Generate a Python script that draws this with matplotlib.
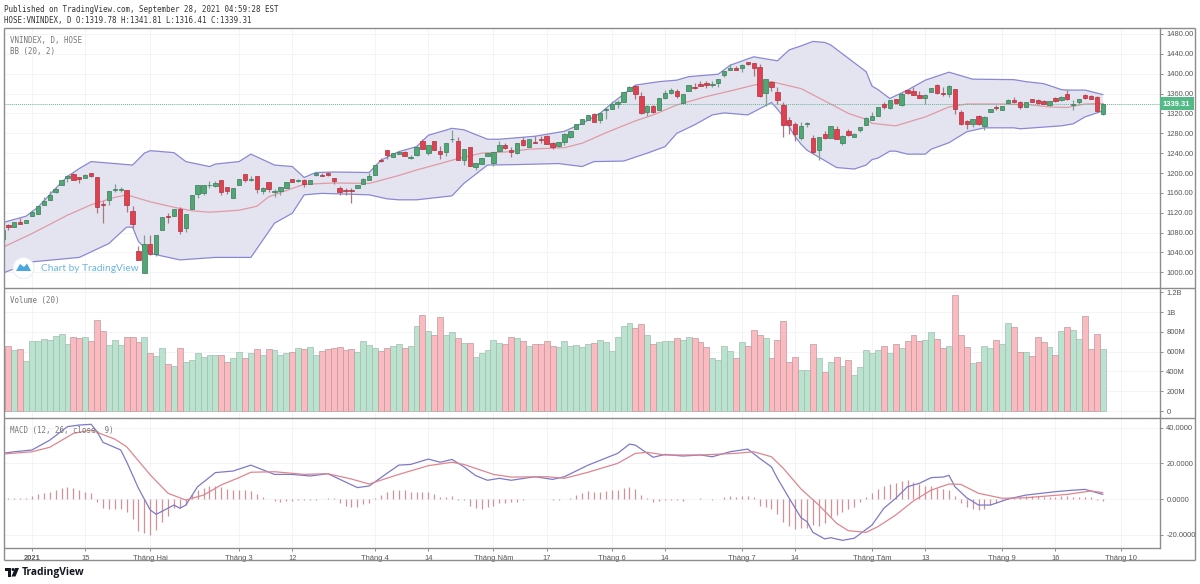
import numpy as np
import matplotlib
matplotlib.use("Agg")
import matplotlib.pyplot as plt
from matplotlib.lines import Line2D
from matplotlib.patches import Rectangle, Ellipse, Polygon

# ******************** data ********************
opens = [1068,1095,1091,1101,1099,1113,1117,1136,1146,1162,1176,1189,1198,1191,1189,1199,1191,1138,1146,1166,
         1165,1166,1123,1042,999,1058,1037,1085,1113,1113,1127,1090,1128,1157,1160,1175,1174,1186,1171,1149,
         1176,1197,1185,1194,1164,1181,1162,1163,1170,1187,1183,1185,1178,1195,1196,1201,1190,1169,1166,1165,
         1170,1177,1185,1195,1227,1246,1233,1238,1242,1231,1236,1264,1240,1264,1245,1242,1268,1265,1227,1252,
         1213,1219,1235,1221,1244,1256,1246,1240,1266,1252,1263,1268,1274,1260,1254,1263,1272,1288,1299,1307,
         1319,1307,1327,1329,1339,1344,1366,1375,1356,1323,1334,1326,1352,1361,1365,1340,1366,1374,1379,1382,
         1377,1382,1397,1408,1411,1411,1423,1421,1414,1362,1384,1364,1337,1306,1298,1270,1299,1270,1246,1279,
         1270,1288,1260,1284,1273,1286,1297,1307,1315,1339,1331,1349,1337,1368,1366,1357,1351,1364,1378,1362,
         1360,1369,1323,1304,1299,1315,1295,1323,1333,1327,1340,1348,1344,1333,1349,1348,1346,1337,1352,1347,
         1360,1336,1342,1358,1356,1354,1319.78]
closes = [1085,1091,1101,1097,1105,1121,1134,1143,1156,1168,1185,1193,1185,1188,1195,1193,1131,1136,1164,1167,
          1168,1136,1097,1025,1058,1036,1076,1112,1112,1127,1083,1117,1156,1175,1175,1176,1179,1162,1164,1169,
          1187,1186,1188,1168,1170,1168,1164,1171,1182,1182,1185,1178,1186,1201,1194,1195,1183,1162,1164,1164,
          1176,1187,1193,1217,1224,1237,1241,1243,1235,1233,1253,1248,1256,1247,1238,1260,1269,1227,1249,1215,
          1220,1231,1240,1242,1256,1250,1242,1260,1256,1269,1261,1267,1259,1252,1263,1278,1284,1298,1309,1316,
          1303,1320,1329,1339,1342,1364,1374,1359,1320,1334,1323,1352,1362,1368,1356,1360,1378,1371,1376,1377,
          1380,1390,1406,1411,1408,1417,1419,1411,1355,1389,1374,1347,1296,1297,1278,1295,1301,1242,1273,1270,
          1294,1269,1274,1276,1278,1293,1310,1314,1332,1333,1347,1340,1360,1361,1358,1352,1357,1371,1362,1360,
          1375,1328,1299,1298,1309,1299,1313,1328,1331,1335,1347,1342,1333,1344,1344,1340,1339,1346,1345,1353,
          1349,1339,1350,1352,1350,1325,1339.31]
highs = [1085,1097,1101,1109,1105,1125,1134,1152,1164,1172,1186,1196,1201,1191,1198,1201,1191,1144,1164,1177,
         1172,1166,1134,1053,1076,1076,1076,1112,1119,1127,1131,1117,1156,1175,1175,1183,1183,1186,1171,1169,
         1187,1197,1193,1194,1171,1181,1168,1172,1182,1188,1187,1187,1186,1203,1201,1202,1190,1174,1170,1169,
         1176,1189,1199,1217,1230,1247,1241,1245,1244,1236,1254,1268,1256,1265,1255,1260,1287,1272,1249,1252,
         1220,1231,1240,1242,1264,1261,1252,1260,1272,1269,1274,1274,1276,1262,1263,1280,1284,1298,1309,1316,
         1320,1323,1332,1346,1348,1364,1376,1377,1364,1336,1337,1352,1368,1372,1370,1360,1378,1382,1386,1386,
         1386,1390,1406,1419,1416,1420,1424,1422,1419,1389,1386,1374,1342,1312,1303,1303,1303,1276,1273,1285,
         1294,1295,1276,1289,1280,1293,1312,1323,1332,1342,1347,1350,1364,1370,1374,1365,1360,1371,1380,1374,
         1377,1370,1327,1307,1309,1317,1315,1328,1336,1335,1349,1354,1346,1344,1350,1350,1348,1346,1354,1356,
         1367,1347,1350,1360,1357,1356,1341.81]
lows = [1068,1085,1091,1097,1099,1113,1117,1136,1146,1159,1175,1181,1185,1180,1189,1192,1119,1100,1136,1162,
        1162,1122,1090,1024,998,1035,1033,1085,1100,1113,1077,1082,1128,1149,1156,1169,1171,1156,1157,1149,
        1176,1182,1183,1160,1157,1162,1152,1156,1169,1181,1182,1172,1178,1194,1193,1194,1178,1156,1156,1139,
        1169,1177,1185,1195,1223,1229,1233,1238,1234,1229,1235,1248,1236,1246,1229,1235,1263,1226,1217,1214,
        1206,1219,1234,1214,1242,1248,1233,1238,1254,1252,1260,1260,1258,1249,1253,1256,1270,1288,1299,1307,
        1302,1301,1308,1329,1331,1344,1365,1349,1319,1315,1321,1326,1350,1360,1352,1339,1365,1370,1376,1372,
        1374,1374,1393,1407,1407,1404,1418,1395,1354,1335,1366,1339,1272,1278,1265,1266,1293,1238,1226,1268,
        1270,1268,1256,1275,1272,1283,1297,1307,1315,1329,1328,1339,1335,1359,1357,1351,1339,1363,1360,1356,
        1354,1319,1297,1289,1293,1297,1287,1322,1327,1327,1339,1340,1329,1333,1344,1339,1339,1335,1342,1345,
        1348,1327,1339,1350,1349,1323,1316.41]
volumes = [583,657,617,624,502,705,711,725,718,762,775,678,745,735,745,711,920,806,664,715,
           664,745,745,698,745,587,553,634,472,458,634,492,512,583,546,566,570,570,492,533,
           593,533,583,627,570,627,614,570,587,593,634,627,647,570,607,627,640,647,617,627,
           593,705,664,634,607,634,657,674,634,654,856,974,809,769,947,769,796,735,684,684,
           546,583,617,715,684,674,745,735,708,661,678,678,705,661,647,705,661,667,647,674,
           684,718,701,607,752,856,890,839,876,769,674,701,711,708,738,718,752,735,698,647,
           536,516,654,610,533,701,654,816,772,735,533,715,910,492,549,418,411,674,536,391,
           492,549,455,516,364,442,620,583,614,661,583,678,634,711,772,711,718,799,732,640,
           657,1173,765,647,482,496,661,640,715,678,887,850,593,593,553,745,694,647,570,809,
           850,819,725,961,624,775,624]
hist = [0.3,0.7,0.7,0.7,0.7,1.7,2.6,3.5,4.1,5.2,6.2,6.7,6,4.9,4.1,3.2,-1.9,-5.2,-5.6,-5.6,
        -5.6,-7.5,-11.2,-17.8,-19.3,-20.4,-17.6,-13,-9.3,-5.2,-4.9,-3.4,2,5,6.4,7.3,7.5,6.9,5.6,5.2,
        5.2,5,4.7,2.6,1.3,0.1,-0.9,-1.5,-1.1,-0.9,-0.6,-0.6,-0.4,-0.4,0.2,0.4,0.3,-2.4,-3.7,-4.3,
        -4.3,-3,-2.4,0.4,2.2,3.9,5,5.2,4.9,4.1,4.1,3.7,3.9,2.6,1.3,1.1,1.5,-0.4,-0.7,-3.7,
        -5,-5.4,-4.5,-3.7,-2.4,-2,-1.9,-1.5,-0.7,-0.2,0.1,0.1,0.2,-0.7,-0.7,-0.2,0.7,2,3.4,4.5,
        3.7,4.1,4.5,4.9,5,6.2,6.7,5.4,2,0.4,-1.5,-1.1,-0.6,-0.4,-0.4,-0.9,0.1,0.1,0.4,0.1,
        -0.4,0.1,0.9,1.7,1.3,1.5,1.7,0.9,-3.9,-4.3,-5.6,-8.4,-13,-15,-16.8,-16.4,-16.4,-14.6,-15,-13.6,
        -10.3,-9,-7.5,-5.6,-4.3,-1.5,1.1,3.2,5.6,7.3,8.6,9,10,10.5,9.5,8.6,7.5,7.3,6.4,5.6,
        5,1.7,-2.2,-4.6,-5.6,-6.4,-5.8,-3.4,-2.4,-0.6,0.4,1.1,1.3,1.5,1.7,1.7,1.3,1.1,1.3,1.5,
        1.7,1.1,1.1,1.1,0.9,-0.4,-0.9]

bb_upper_idx = [0,4,6,9,11,13,15,19,22,24,25,29,31,35,36,40,42,46,49,51,53,56,62,64,67,70,72,76,78,82,84,90,95,98,101,103,
                107,111,114,116,121,123,127,131,133,135,137,139,140,143,146,147,148,150,153,156,160,164,171,173,176,179,180,183,186]
bb_upper = [1100,1113,1131,1169,1193,1209,1223,1219,1216,1240,1245,1241,1223,1213,1218,1223,1238,1216,1213,1191,1201,1202,1201,1226,1243,1253,1276,1290,1287,1268,1268,1274,1284,1300,1320,1340,
            1377,1384,1387,1394,1399,1417,1434,1426,1448,1456,1465,1463,1458,1431,1404,1375,1368,1350,1367,1387,1403,1389,1388,1384,1380,1368,1367,1367,1358]
bb_lower_idx = [0,5,13,18,21,22,23,25,30,36,42,46,49,51,54,62,65,67,70,76,78,82,87,94,98,100,105,109,112,114,117,120,122,126,130,131,132,134,
                135,136,139,141,144,146,147,148,150,151,153,156,157,160,163,166,171,172,179,181,183,186]
bb_lower = [998,1021,1030,1058,1091,1091,1062,1038,1025,1030,1030,1099,1119,1156,1159,1156,1148,1146,1146,1154,1179,1216,1217,1219,1213,1223,1224,1240,1253,1280,1297,1317,1321,1317,1342,1329,1313,1273,
            1258,1246,1225,1211,1208,1216,1227,1230,1244,1244,1238,1238,1248,1261,1283,1291,1291,1289,1295,1299,1313,1325]
bb_basis_idx = [0,5,11,15,19,21,25,29,32,35,40,43,45,49,51,56,62,67,70,74,77,81,86,89,95,98,102,107,110,114,119,124,127,130,
                135,140,143,146,147,151,156,160,163,169,174,177,180,183,186]
bb_basis = [1050,1078,1115,1136,1151,1156,1142,1131,1124,1121,1125,1133,1152,1169,1177,1180,1179,1195,1206,1219,1229,1240,1243,1248,1251,1260,1281,1305,1317,1337,1354,1368,1377,1384,
            1370,1339,1320,1308,1300,1295,1313,1333,1339,1339,1337,1333,1332,1339,1340]

macd_idx = [0,2,5,8,11,13,15,16,17,20,21,23,25,26,29,30,31,33,36,39,42,46,49,52,55,60,62,65,67,69,72,74,76,78,80,82,84,86,90,93,95,99,104,106,107,110,112,115,118,120,123,126,128,130,131,133,135,
            136,137,139,140,142,144,147,149,151,153,155,157,159,160,161,163,165,167,170,173,178,180,183,186]
macd_line = [25.6,26.5,27.5,33,40.6,41.5,41.9,37.8,31.8,27.5,20.9,6,-6.2,-8.6,-3.4,-5.2,-3.4,6.9,14.8,15.7,19,13.8,13.8,12.9,14.2,6.4,7.3,14.4,19,19.4,22.4,20.6,22.2,18.1,13.1,10.5,11.6,10.5,12.5,11,12.5,19,25.6,30.8,30.2,23.4,25,24.1,24.7,23.7,26.5,28,22.8,18,11.6,0.4,-10.5,
             -12.7,-18.7,-22.4,-21.7,-23.2,-22,-14.6,-5.2,0.4,6.9,8.8,12,12.3,13.3,6.9,0.7,-3.4,-3.4,0,2.2,4.1,4.7,5.4,2.6]
signal_idx = [0,5,8,12,15,19,21,25,28,31,34,37,40,42,46,51,55,59,62,67,72,76,78,83,86,92,95,99,104,107,109,112,118,124,127,130,132,135,
              138,141,143,146,148,151,154,157,160,162,165,169,173,180,184,186]
signal_line = [25.2,26.5,29,36.8,38.7,33.6,29.3,13.5,3.2,-0.6,2.2,7.9,12,15,15.3,13.8,14.2,11.2,8.4,13.8,18.7,20.6,19.4,13.8,12.3,12.5,11.6,15,20,25.6,26.2,24.7,24.7,25.6,26.5,23.7,17.2,5.6,
               -3.4,-13.6,-17.8,-18.7,-15.5,-9,-1.1,5,8.4,8.2,3.2,0.4,0.7,2.6,4.5,3.6]

price_ticks = [1000,1040,1080,1120,1160,1200,1240,1280,1320,1360,1400,1440,1480]
volume_ticks = [0,200,400,600,800,1000,1200]
volume_labels = ["0","200M","400M","600M","800M","1B","1.2B"]
macd_ticks = [-20,0,20,40]
time_ticks = [5,14,25,40,49,63,72,83,92,103,112,125,134,147,156,169,178,189]
time_labels = ["2021","15","Tháng Hai","Tháng 3","12","Tháng 4","14","Tháng Năm","17","Tháng 6","14","Tháng 7","14","Tháng Tám","13","Tháng 9","16","Tháng 10"]
last_close = closes[-1]
# *******************************************************************

W, H = 1200, 584
L, R = 4.3, 1160.0
BAR0, STEP = 2.4, 5.916
GRAY = "#8c8c8c"
UP, DOWN = "#4fa874", "#e0404f"
UP_EDGE, DOWN_EDGE = "#3a7a58", "#a8343f"
MONO = "DejaVu Sans Mono"
SANS = "Liberation Sans"


def make_axes(top, bottom, y_at, px_per_unit):
    ax = fig.add_axes([L / W, 1 - bottom / H, (R - L) / W, (bottom - top) / H])
    ax.set_xlim((L - BAR0) / STEP, (R - BAR0) / STEP)
    y_ref, value = y_at
    ax.set_ylim(value - (bottom - y_ref) / px_per_unit, value + (y_ref - top) / px_per_unit)
    ax.set_xticks(time_ticks)
    ax.tick_params(axis="x", length=0, labelbottom=False)
    ax.yaxis.tick_right()
    ax.tick_params(axis="y", length=2.5, width=0.7, color=GRAY, labelsize=5.4, labelcolor="#555555", pad=2)
    ax.grid(True, color="#f2f4f7", lw=0.7)
    ax.set_axisbelow(True)
    for side in ["top", "left", "bottom"]:
        ax.spines[side].set_visible(False)
    ax.spines["right"].set_color(GRAY)
    ax.spines["right"].set_linewidth(1.0)
    return ax


fig = plt.figure(figsize=(W / 100, H / 100), dpi=100, facecolor="white")

# price pane
ax1 = make_axes(28, 287.5, (272.3, 1000), 0.4965)
ax1.set_yticks(price_ticks)
ax1.set_yticklabels(["%.2f" % p for p in price_ticks], fontfamily=SANS)
band_x = bb_upper_idx + bb_lower_idx[::-1]
band_y = bb_upper + bb_lower[::-1]
ax1.fill(band_x, band_y, color="#e4e4f1", lw=0, zorder=1)
ax1.plot(bb_upper_idx, bb_upper, color="#8a88d4", lw=0.9, zorder=2, solid_joinstyle="round")
ax1.plot(bb_lower_idx, bb_lower, color="#8a88d4", lw=0.9, zorder=2, solid_joinstyle="round")
ax1.plot(bb_basis_idx, bb_basis, color="#e09aa4", lw=0.9, zorder=2, solid_joinstyle="round")
ax1.axhline(last_close, color="#63b893", lw=0.7, ls=(0, (1, 1)), zorder=2)

idx = np.arange(len(closes))
o, c, h, l = map(np.array, (opens, closes, highs, lows))
up = c >= o
ax1.vlines(idx[up], l[up], h[up], color="#7fa08c", lw=0.9, zorder=3)
ax1.vlines(idx[~up], l[~up], h[~up], color="#a87880", lw=0.9, zorder=3)
ax1.bar(idx[up], (c - o)[up], bottom=o[up], width=0.74, color=UP, edgecolor=UP_EDGE, lw=0.5, zorder=4)
ax1.bar(idx[~up], (o - c)[~up], bottom=c[~up], width=0.74, color=DOWN, edgecolor=DOWN_EDGE, lw=0.5, zorder=4)

ax1.add_patch(Rectangle((1.0, last_close - 13), 33.5 / (R - L), 26, transform=ax1.get_yaxis_transform(),
                        facecolor="#53b987", edgecolor="none", clip_on=False, zorder=6))
ax1.text(1 + 16.5 / (R - L), last_close - 0.5, "%.2f" % last_close, transform=ax1.get_yaxis_transform(), color="white",
         fontsize=5.4, fontweight="bold", fontfamily=SANS, ha="center", va="center", zorder=7)

# volume pane
ax2 = make_axes(287.5, 417.5, (411, 0), 0.0989)
ax2.set_yticks(volume_ticks)
ax2.set_yticklabels(volume_labels, fontfamily=SANS)
vol = np.array(volumes)
ax2.bar(idx[up], vol[up], width=1.0, color="#b9e2cf", edgecolor="#a5bcaf", lw=0.5, zorder=3)
ax2.bar(idx[~up], vol[~up], width=1.0, color="#fbb9c0", edgecolor="#b99ca0", lw=0.5, zorder=3)

# macd pane
ax3 = make_axes(417.5, 548, (499, 0), 1.7825)
ax3.set_yticks(macd_ticks)
ax3.set_yticklabels(["%.4f" % m for m in macd_ticks], fontfamily=SANS)
ax3.vlines(idx, 0, hist, color="#d48f98", lw=0.9, zorder=2)
ax3.plot(macd_idx, macd_line, color="#7c7ac8", lw=0.9, zorder=3, solid_joinstyle="round")
ax3.plot(signal_idx, signal_line, color="#e0858e", lw=0.9, zorder=4, solid_joinstyle="round")
ax3.tick_params(axis="x", length=2, width=0.7, color=GRAY, labelbottom=True, labelsize=5.4, labelcolor="#555555", pad=3)
ax3.set_xticklabels(time_labels, fontfamily=SANS)
ax3.get_xticklabels()[0].set_fontweight("bold")


def px_line(x0, y0, x1, y1, color=GRAY, lw=1.0):
    fig.add_artist(Line2D([x0 / W, x1 / W], [1 - y0 / H, 1 - y1 / H], color=color, lw=lw, solid_capstyle="butt"))


def px_text(x, y, s, **kw):
    fig.text(x / W, 1 - y / H, s, va="center", **kw)


def px_poly(points, color):
    fig.add_artist(Polygon([(x / W, 1 - y / H) for x, y in points], closed=True, facecolor=color, edgecolor="none"))


# frame
px_line(L, 28, 1195, 28)
px_line(L, 28, L, 560)
px_line(1195, 28, 1195, 560)
px_line(L, 560, 1195, 560)
px_line(L, 287.5, 1195, 287.5)
px_line(L, 417.5, 1195, 417.5)
px_line(L, 548, R, 548)

# header and pane titles
px_text(4, 9, "Published on TradingView.com, September 28, 2021 04:59:28 EST", fontfamily=MONO, fontsize=5.45, color="#333333")
px_text(4, 20, "HOSE:VNINDEX, D O:1319.78 H:1341.81 L:1316.41 C:1339.31", fontfamily=MONO, fontsize=5.45, color="#333333")
px_text(10, 40.5, "VNINDEX, D, HOSE", fontfamily=MONO, fontsize=5.45, color="#777777")
px_text(10, 51.5, "BB (20, 2)", fontfamily=MONO, fontsize=5.45, color="#777777")
px_text(10, 300, "Volume (20)", fontfamily=MONO, fontsize=5.45, color="#777777")
px_text(10, 430, "MACD (12, 26, close, 9)", fontfamily=MONO, fontsize=5.45, color="#777777")

# watermark in the price pane
fig.add_artist(Ellipse((23.5 / W, 1 - 268 / H), 21 / W, 21 / H, facecolor="white", edgecolor="#e8eef4", lw=0.8))
px_poly([(16, 271), (20, 264), (24, 267), (27, 263.5), (31, 271)], "#4aa8e0")
px_text(41, 268, "Chart by TradingView", fontfamily="Lato", fontsize=7.3, color="#6cb6e2")

# bottom logo
px_poly([(4.5, 568), (11, 568), (11, 576.5), (8, 576.5), (8, 571), (4.5, 571)], "#131722")
fig.add_artist(Ellipse((13 / W, 1 - 569.5 / H), 3 / W, 3 / H, facecolor="#131722", edgecolor="none"))
px_poly([(15, 568), (19, 568), (15.5, 576.5), (11.5, 576.5)], "#131722")
px_text(22, 572.5, "TradingView", fontfamily="Open Sans", fontsize=7.4, fontweight="bold", color="#131722")

fig.savefig("out.png", dpi=100, facecolor="white")
